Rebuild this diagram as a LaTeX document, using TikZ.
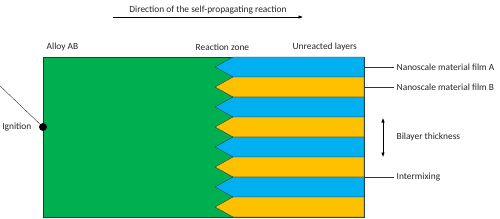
\documentclass[tikz,border=0pt]{standalone}
\usepackage{fontspec}
\setmainfont{Carlito}
\usetikzlibrary{positioning,calc,arrows.meta}
\definecolor{cGreen}{HTML}{00B050}
\definecolor{cBlue}{HTML}{00B0F0}
\definecolor{cGold}{HTML}{FFC000}
\definecolor{cEdge}{HTML}{1F3B4D}
\definecolor{cText}{HTML}{262626}
\tikzset{LABEL/.style={inner sep=2.5pt,text=cText,font=\fontsize{9.4}{11}\selectfont}}
\tikzset{LEADER/.style={semithick, draw=black!80}}
\tikzset{ARROW/.style={semithick, -{Latex[length=4.5pt,width=3.5pt]}}}
\tikzset{LAYER/.style={draw=cEdge, thin}}

\begin{document}
\begin{tikzpicture}[x=1pt,y=-1pt]
\useasboundingbox (0,0) rectangle (500,218);

% alloy block
\draw[LAYER, fill=cGreen] (43,57) rectangle (364,217);

% unreacted bilayers
\foreach \i in {0,...,7}{
  \pgfmathsetmacro{\top}{57+20*\i}
  \pgfmathsetmacro{\bot}{\top+20}
  \pgfmathsetmacro{\mid}{\top+10}
  \ifodd\i \def\fillc{cGold}\else \def\fillc{cBlue}\fi
  \draw[LAYER, fill=\fillc] (233,\top) -- (364,\top) -- (364,\bot) -- (233,\bot) -- (215,\mid) -- cycle;
}

% direction of the reaction
\coordinate (c_dir_start) at (113,17);
\coordinate (c_dir_end) at (303,17);
\draw[ARROW] (c_dir_start) -- (c_dir_end);
\node[LABEL, above=0pt of $(c_dir_start)!0.5!(c_dir_end)$] (n_direction) {Direction of the self-propagating reaction};

% headings
\node[LABEL, anchor=west] (n_alloy) at (44,47) {Alloy AB};
\node[LABEL, anchor=west] (n_zone) at (193,47) {Reaction zone};
\node[LABEL, anchor=west] (n_unreacted) at (290,47) {Unreacted layers};

% ignition
\node[circle, fill=black, inner sep=0pt, minimum size=8pt] (n_dot) at (43,127) {};
\node[LABEL, anchor=east] (n_ignition) at (34,127) {Ignition};
\coordinate (c_ign) at (-2,84);
\draw[LEADER, thin] (c_ign) -- (n_dot);

% film labels
\node[LABEL, anchor=west] (n_film_a) at (394,67) {Nanoscale material film A};
\node[LABEL, anchor=west] (n_film_b) at (394,87) {Nanoscale material film B};
\node[LABEL, anchor=west] (n_intermix) at (394,177) {Intermixing};
\node[LABEL, anchor=west] (n_bilayer) at (394,137) {Bilayer thickness};
\coordinate (c_film_a) at (364,67);
\coordinate (c_film_b) at (364,87);
\coordinate (c_intermix) at (364,177);
\draw[LEADER] (c_film_a) -- (n_film_a.west);
\draw[LEADER] (c_film_b) -- (n_film_b.west);
\draw[LEADER] (c_intermix) -- (n_intermix.west);

% bilayer thickness
\coordinate (c_bi_top) at (383,118);
\coordinate (c_bi_bot) at (383,157);
\draw[semithick, {Latex[length=4.5pt,width=3.5pt]}-{Latex[length=4.5pt,width=3.5pt]}] (c_bi_top) -- (c_bi_bot);

\end{tikzpicture}
\end{document}
